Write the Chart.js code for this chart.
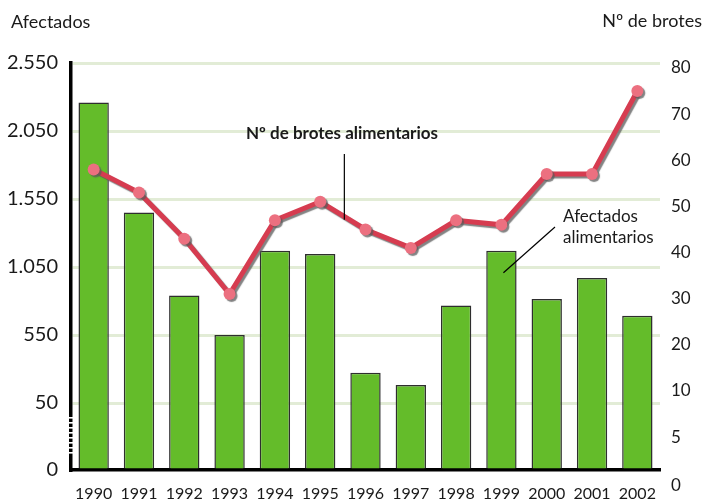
<!DOCTYPE html>
<html>
<head>
<meta charset="utf-8">
<script src="https://cdn.jsdelivr.net/npm/chart.js@4"></script>
<style>
  html, body { margin: 0; padding: 0; background: #fff; }
  canvas { display: block; }
</style>
</head>
<body>
<canvas id="brotesChart" width="704" height="501"></canvas>
<script>
var years = ['1990', '1991', '1992', '1993', '1994', '1995', '1996', '1997', '1998', '1999', '2000', '2001', '2002'];
var afectados = [2260, 1450, 840, 550, 1170, 1145, 273, 182, 767, 1170, 815, 969, 692];
var brotes = [58, 53, 43, 31, 47, 51, 45, 41, 47, 46, 57, 57, 75];

var leftTicks = [0, 50, 550, 1050, 1550, 2050, 2550];
var leftTickLabels = ['0', '50', '550', '1.050', '1.550', '2.050', '2.550'];
var rightTicks = [0, 5, 10, 20, 30, 40, 50, 60, 70, 80];
var rightTickLabels = ['0', '5', '10', '20', '30', '40', '50', '60', '70', '80'];

// los dos ejes van cortados por abajo: 0-50 en el izquierdo, 0-10 en el derecho
var CORTE = 442.6;
function escalaIzq(v) { return v >= 50 ? v + CORTE : v * (50 + CORTE) / 50; }
function escalaDer(n) { return n >= 10 ? n : 10 - (10 - n) * 2; }
var IZQ_MAX = 2550 + CORTE + 0.1;
var DER_MIN = -7.13, DER_MAX = 81.08;

var FONT = 'Lato, "Open Sans", sans-serif';

function sinRelleno(scale) {
  scale.paddingTop = 0;
  scale.paddingBottom = 0;
}

var extras = {
  id: 'extras',
  beforeDatasetDraw: function(chart, args) {
    if (args.meta.type !== 'line') return;
    var ctx = chart.ctx;
    ctx.save();
    ctx.shadowColor = 'rgba(90,90,90,0.75)';
    ctx.shadowOffsetX = 2;
    ctx.shadowOffsetY = 2;
    ctx.shadowBlur = 1;
  },
  afterDatasetDraw: function(chart, args) {
    if (args.meta.type !== 'line') return;
    chart.ctx.restore();
  },
  afterDraw: function(chart) {
    var ctx = chart.ctx;
    var area = chart.chartArea;
    var x = chart.scales.x, y = chart.scales.y, y2 = chart.scales.y2;
    ctx.save();

    // trazos blancos sobre el eje para marcar el corte
    var y50 = y.getPixelForValue(escalaIzq(50));
    ctx.fillStyle = '#fff';
    for (var p = y50 + 14; p < area.bottom - 13; p += 5) {
      ctx.fillRect(area.left - 3, p, 6, 1.6);
    }

    ctx.fillStyle = '#1a1a1a';
    ctx.textBaseline = 'alphabetic';
    ctx.font = '18px ' + FONT;
    ctx.textAlign = 'left';
    ctx.fillText('Afectados', 11, 28);
    ctx.textAlign = 'right';
    ctx.fillText('Nº de brotes', 702, 27);

    // etiqueta de la línea
    ctx.textAlign = 'left';
    ctx.font = 'bold 17px ' + FONT;
    ctx.fillText('Nº de brotes alimentarios', 246, 139);
    var lx = (x.getPixelForValue(5) + x.getPixelForValue(6)) / 2 + 1.5;
    var ly = (y2.getPixelForValue(brotes[5]) + y2.getPixelForValue(brotes[6])) / 2 + 4;
    ctx.strokeStyle = '#000';
    ctx.lineWidth = 1.2;
    ctx.beginPath();
    ctx.moveTo(lx, 154);
    ctx.lineTo(lx, ly);
    ctx.stroke();

    // etiqueta de las barras
    ctx.font = '17px ' + FONT;
    ctx.fillText('Afectados', 563, 222);
    ctx.fillText('alimentarios', 563, 243);
    var bx = x.getPixelForValue(9) + 2;
    var by = y.getPixelForValue(escalaIzq(afectados[9])) + 22;
    ctx.beginPath();
    ctx.moveTo(555, 227);
    ctx.lineTo(bx, by);
    ctx.stroke();

    ctx.restore();
  }
};

var ctx = document.getElementById('brotesChart').getContext('2d');
var chart = new Chart(ctx, {
  type: 'bar',
  data: {
    labels: years,
    datasets: [{
      type: 'line',
      label: 'Nº de brotes alimentarios',
      data: brotes.map(escalaDer),
      yAxisID: 'y2',
      order: 0,
      borderColor: '#d63c50',
      borderWidth: 5,
      tension: 0,
      pointRadius: 6,
      pointBackgroundColor: '#ec7080',
      pointBorderWidth: 0,
      pointHoverRadius: 6
    }, {
      label: 'Afectados alimentarios',
      data: afectados.map(escalaIzq),
      yAxisID: 'y',
      order: 1,
      backgroundColor: '#64bc2a',
      borderColor: '#2e2e2e',
      borderWidth: 1.5,
      barPercentage: 0.67,
      categoryPercentage: 1
    }]
  },
  options: {
    responsive: false,
    animation: false,
    events: [],
    layout: { padding: { top: 63, left: 0, right: 0, bottom: 0 } },
    plugins: {
      legend: { display: false },
      tooltip: { enabled: false }
    },
    scales: {
      x: {
        grid: { display: false, drawTicks: false },
        border: { display: true, color: '#000', width: 3.5 },
        ticks: {
          color: '#1a1a1a',
          font: { family: FONT, size: 16 },
          padding: 14,
          maxRotation: 0,
          autoSkip: false
        },
        afterFit: function(scale) {
          scale.height = 31;
          scale.paddingLeft = 0;
          scale.paddingRight = 0;
        }
      },
      y: {
        position: 'left',
        min: 0,
        max: IZQ_MAX,
        grid: {
          drawTicks: false,
          lineWidth: 3,
          color: function(c) { return c.tick && c.tick.value === 0 ? 'rgba(0,0,0,0)' : '#e2ecd6'; }
        },
        border: { display: true, color: '#000', width: 3.5 },
        ticks: {
          color: '#1a1a1a',
          font: { family: FONT, size: 20 },
          padding: 13,
          autoSkip: false,
          callback: function(value, i) { return leftTickLabels[i]; }
        },
        afterBuildTicks: function(scale) {
          scale.ticks = leftTicks.map(function(v) { return { value: escalaIzq(v) }; });
        },
        afterFit: function(scale) { scale.width = 71; sinRelleno(scale); }
      },
      y2: {
        position: 'right',
        min: DER_MIN,
        max: DER_MAX,
        grid: { display: false, drawTicks: false },
        border: { display: false },
        ticks: {
          color: '#1a1a1a',
          padding: 11,
          autoSkip: false,
          font: function(c) {
            // el 0 queda por debajo del área: se baja con una línea vacía delante
            var abajo = c.tick && c.tick.value === DER_MIN;
            return { family: FONT, size: 17, lineHeight: abajo ? 1.85 : 1.2 };
          },
          callback: function(value, i) {
            return value === DER_MIN ? ['', rightTickLabels[i]] : rightTickLabels[i];
          }
        },
        afterBuildTicks: function(scale) {
          scale.ticks = rightTicks.map(function(n) {
            return { value: Math.max(escalaDer(n), DER_MIN) };
          });
        },
        afterFit: function(scale) { scale.width = 44; sinRelleno(scale); }
      }
    }
  },
  plugins: [extras]
});
</script>
</body>
</html>
